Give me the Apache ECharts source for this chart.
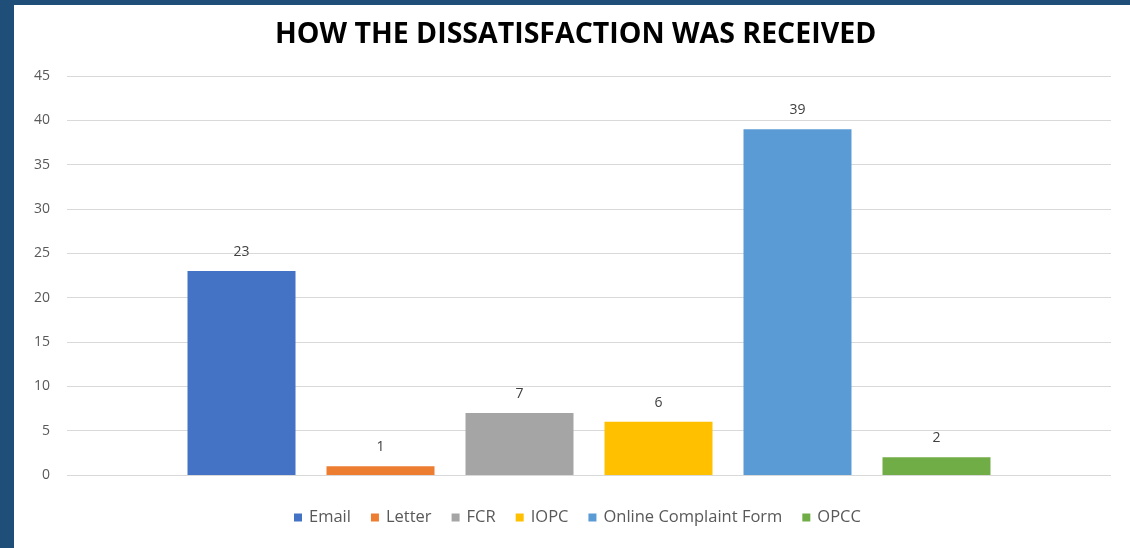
<!DOCTYPE html>
<html>
<head>
<meta charset="utf-8">
<script src="https://cdn.jsdelivr.net/npm/echarts@6/dist/echarts.min.js"></script>
<style>
  html, body { margin: 0; padding: 0; }
  body { width: 1130px; height: 548px; background: #1F4E79; position: relative; overflow: hidden; }
  #chart { position: absolute; left: 14px; top: 5px; width: 1116px; height: 543px; background: #ffffff; }
</style>
</head>
<body>
<div id="chart"></div>
<script>
// Channels through which complaints arrived
const channels = ['Email', 'Letter', 'FCR', 'IOPC', 'Online Complaint Form', 'OPCC'];
const counts = [23, 1, 7, 6, 39, 2];
const colors = ['#4472C4', '#ED7D31', '#A5A5A5', '#FFC000', '#5B9BD5', '#70AD47'];
const yTicks = { min: 0, max: 45, interval: 5 };

const font = '"Open Sans", "Liberation Sans", sans-serif';

const chart = echarts.init(document.getElementById('chart'), null, { renderer: 'canvas' });

const series = channels.map((name, i) => ({
  name: name,
  type: 'bar',
  data: [counts[i]],
  barWidth: 108,
  barGap: '28.7%',
  itemStyle: { color: colors[i] },
  label: {
    show: true,
    position: 'top',
    distance: 12,
    color: '#404040',
    fontSize: 14,
    fontFamily: font
  }
}));

chart.setOption({
  animation: false,
  title: {
    text: 'HOW THE DISSATISFACTION WAS RECEIVED',
    left: 256,
    top: 10,
    textStyle: { fontFamily: font, fontWeight: 'bold', fontSize: 28.5, color: '#000000' }
  },
  grid: { left: 53, right: 19, top: 71, bottom: 73 },
  legend: {
    bottom: 17,
    left: 275,
    itemWidth: 8,
    itemHeight: 8,
    itemGap: 20,
    icon: 'rect',
    textStyle: { fontFamily: font, fontSize: 16.5, color: '#595959', padding: [0, 0, 0, 2] },
    data: channels
  },
  xAxis: {
    type: 'category',
    data: [''],
    axisLine: { show: false },
    axisTick: { show: false },
    axisLabel: { show: false }
  },
  yAxis: {
    type: 'value',
    min: yTicks.min,
    max: yTicks.max,
    interval: yTicks.interval,
    axisLine: { show: false },
    axisTick: { show: false },
    axisLabel: { color: '#595959', fontSize: 14, fontFamily: font, margin: 17 },
    splitLine: { lineStyle: { color: '#D9D9D9', width: 1 } }
  },
  series: series
});
</script>
</body>
</html>
